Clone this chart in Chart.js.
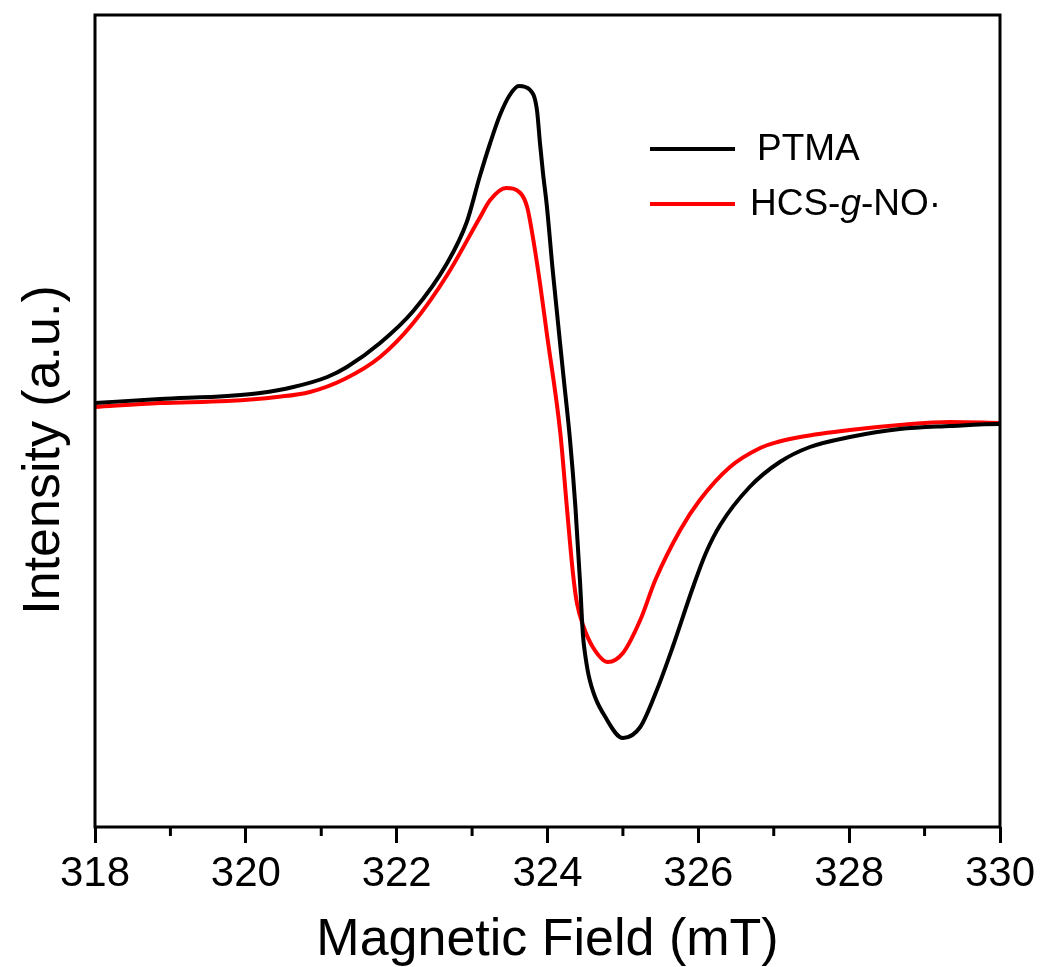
<!DOCTYPE html>
<html>
<head>
<meta charset="utf-8">
<script src="https://cdn.jsdelivr.net/npm/chart.js@4.4.1/dist/chart.umd.min.js"></script>
<style>
  html, body { margin: 0; padding: 0; background: #fff; }
  #wrap { width: 1043px; height: 967px; position: relative; }
</style>
</head>
<body>
<div id="wrap"><canvas id="eprChart"></canvas></div>
<script>
// EPR spectra, field in mT, intensity in arbitrary units
var fieldPTMA = [318.00, 318.86, 319.75, 320.19, 320.63, 321.08, 321.34, 321.78, 322.22, 322.67,
  322.93, 323.10, 323.24, 323.37, 323.50, 323.62, 323.77, 323.86, 323.90, 323.94, 323.99,
  324.07, 324.21, 324.30, 324.37, 324.43, 324.47, 324.50, 324.56, 324.79, 325.00, 325.23, 325.45,
  325.66, 325.93, 326.10, 326.29, 326.68, 327.08, 327.48, 328.01, 328.67, 329.34, 330.00, 330.09];
var intensityPTMA = [4.0, 5.0, 5.75, 6.5, 8.0, 10.5, 13.0, 19.0, 27.0, 39.0,
  49.25, 60.5, 69.0, 76.0, 81.0, 83.25, 82.25, 77.25, 69.0, 61.5, 53.5,
  37.0, 11.0, -5.5, -22.0, -40.25, -54.0, -59.0, -65.25, -75.25, -79.75, -77.0, -67.75,
  -57.0, -42.0, -33.5, -26.5, -17.0, -10.75, -7.0, -4.5, -2.5, -1.75, -1.25, -1.25];

var fieldHCS = [318.00, 318.86, 319.75, 320.41, 320.85, 321.31, 321.78, 322.22, 322.67, 323.10,
  323.24, 323.45, 323.64, 323.73, 323.79, 323.90, 323.99, 324.17, 324.26, 324.34, 324.39, 324.47,
  324.60, 324.80, 325.00, 325.23, 325.43, 325.76, 326.02, 326.42, 326.82, 327.05, 327.35, 328.01,
  328.67, 329.34, 330.00];
var intensityHCS = [3.0, 4.0, 4.5, 5.5, 6.75, 10.0, 15.5, 24.0, 36.0, 50.25,
  54.75, 57.75, 56.5, 53.0, 47.25, 34.0, 21.5, -3.5, -22.75, -39.0, -46.0, -51.5,
  -57.0, -60.75, -58.5, -50.25, -40.25, -27.75, -20.25, -12.0, -7.25, -5.75, -4.5, -2.75,
  -1.5, -0.75, -1.0];

var xMin = 318, xMax = 330;
var yMin = -102, yMax = 101;

var seriesNames = ['PTMA', 'HCS-g-NO·'];
// legend text pieces, second flag = italic
var legendParts = [
  [['PTMA', false]],
  [['HCS-', false], ['g', true], ['-NO·', false]]
];

function toPoints(xs, ys) {
  var pts = [];
  for (var i = 0; i < xs.length; i++) pts.push({ x: xs[i], y: ys[i] });
  return pts;
}

var FONT = '"Liberation Sans", Arial, sans-serif';

// box around the plot + minor ticks on x
var framePlugin = {
  id: 'frame',
  afterDraw: function (chart) {
    var ctx = chart.ctx, a = chart.chartArea, xs = chart.scales.x;
    ctx.save();
    ctx.strokeStyle = '#000';
    ctx.lineWidth = 3;
    ctx.strokeRect(a.left, a.top, a.right - a.left, a.bottom - a.top);
    for (var v = xMin + 1; v < xMax; v += 2) {
      var px = xs.getPixelForValue(v);
      ctx.beginPath();
      ctx.moveTo(px, a.bottom);
      ctx.lineTo(px, a.bottom + 9);
      ctx.stroke();
    }
    ctx.restore();
  }
};

// y title and in-plot legend
var labelPlugin = {
  id: 'labels',
  afterDraw: function (chart) {
    var ctx = chart.ctx;
    ctx.save();
    ctx.fillStyle = '#000';
    ctx.font = '52px ' + FONT;
    ctx.textAlign = 'center';
    ctx.textBaseline = 'middle';
    ctx.translate(45, 450);
    ctx.rotate(-Math.PI / 2);
    ctx.fillText('Intensity (a.u.)', 0, 0);
    ctx.restore();

    var rows = [{ y: 149, tx: 757 }, { y: 204, tx: 750 }];
    chart.data.datasets.forEach(function (ds, i) {
      var r = rows[i];
      ctx.save();
      ctx.strokeStyle = ds.borderColor;
      ctx.lineWidth = 4;
      ctx.beginPath();
      ctx.moveTo(650, r.y);
      ctx.lineTo(735, r.y);
      ctx.stroke();
      ctx.fillStyle = '#000';
      ctx.textBaseline = 'middle';
      ctx.textAlign = 'left';
      var x = r.tx;
      legendParts[i].forEach(function (p) {
        ctx.font = (p[1] ? 'italic ' : '') + '37px ' + FONT;
        ctx.fillText(p[0], x, r.y + 1);
        x += ctx.measureText(p[0]).width;
      });
      ctx.restore();
    });
  }
};

var ctx = document.getElementById('eprChart').getContext('2d');

var myChart = new Chart(ctx, {
  type: 'line',
  data: {
    datasets: [
      {
        label: seriesNames[0],
        data: toPoints(fieldPTMA, intensityPTMA),
        borderColor: '#000000',
        borderWidth: 4,
        pointRadius: 0,
        cubicInterpolationMode: 'monotone',
        clip: { left: 0, top: 0, right: 8, bottom: 0 }
      },
      {
        label: seriesNames[1],
        data: toPoints(fieldHCS, intensityHCS),
        borderColor: '#ff0000',
        borderWidth: 4,
        pointRadius: 0,
        cubicInterpolationMode: 'monotone'
      }
    ]
  },
  options: {
    responsive: true,
    maintainAspectRatio: false,
    animation: false,
    layout: { padding: { top: 15, right: 43, left: 0, bottom: 0 } },
    plugins: {
      legend: { display: false },
      tooltip: { enabled: false }
    },
    scales: {
      x: {
        type: 'linear',
        min: xMin,
        max: xMax,
        border: { display: false },
        grid: {
          drawOnChartArea: false,
          drawTicks: true,
          tickLength: 16,
          tickWidth: 3,
          tickColor: '#000'
        },
        ticks: {
          stepSize: 2,
          color: '#000',
          padding: 6,
          maxRotation: 0,
          font: { family: FONT, size: 42 }
        },
        title: {
          display: true,
          text: 'Magnetic Field (mT)',
          color: '#000',
          padding: { top: 0, bottom: 0 },
          font: { family: FONT, size: 52, lineHeight: 1.0 }
        },
        afterFit: function (scale) { scale.height = 140; }
      },
      y: {
        min: yMin,
        max: yMax,
        border: { display: false },
        grid: { display: false },
        ticks: { display: false },
        afterFit: function (scale) { scale.width = 95; }
      }
    }
  },
  plugins: [framePlugin, labelPlugin]
});
</script>
</body>
</html>
